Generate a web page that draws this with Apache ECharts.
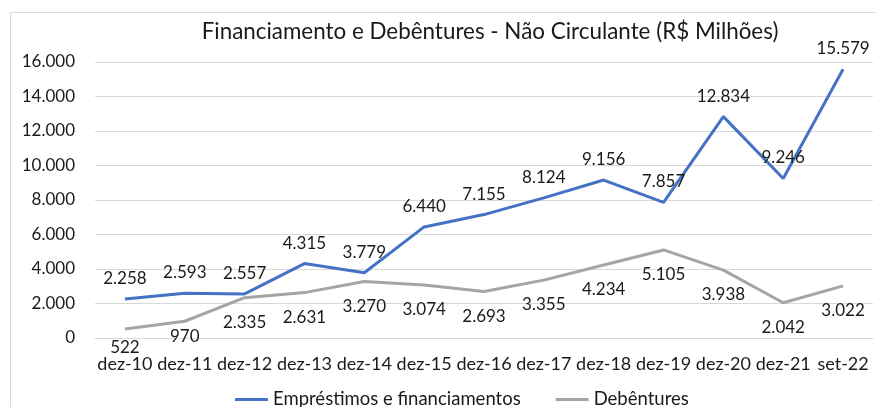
<!DOCTYPE html>
<html>
<head>
<meta charset="utf-8">
<script src="https://cdn.jsdelivr.net/npm/echarts@6/dist/echarts.min.js"></script>
<style>
  html, body { margin: 0; padding: 0; background: #ffffff; }
  #chart { width: 876px; height: 407px; }
</style>
</head>
<body>
<div id="chart"></div>
<script>
// Period labels on the category axis
const periods = ['dez-10', 'dez-11', 'dez-12', 'dez-13', 'dez-14', 'dez-15', 'dez-16',
                 'dez-17', 'dez-18', 'dez-19', 'dez-20', 'dez-21', 'set-22'];

// Non-current balances, R$ millions
const emprestimos = [2258, 2593, 2557, 4315, 3779, 6440, 7155, 8124, 9156, 7857, 12834, 9246, 15579];
const debentures  = [522, 970, 2335, 2631, 3270, 3074, 2693, 3355, 4234, 5105, 3938, 2042, 3022];

// Value axis ticks
const yTicks = [0, 2000, 4000, 6000, 8000, 10000, 12000, 14000, 16000];

const FONT = 'Lato';
const TXT = '#1a1a1a';

// Brazilian thousands separator
function fmt(v) {
  return String(Math.round(v)).replace(/\B(?=(\d{3})+(?!\d))/g, '.');
}

// Small nudges for the first two debenture labels, which sit close to the axis
const debLabelNudge = { 0: -6, 1: -9 };

const chart = echarts.init(document.getElementById('chart'), null, { renderer: 'canvas' });

chart.setOption({
  animation: false,
  backgroundColor: '#ffffff',
  textStyle: { fontFamily: FONT },
  title: {
    text: 'Financiamento e Debêntures - Não Circulante (R$ Milhões)',
    left: 490,
    textAlign: 'center',
    top: 21,
    padding: 0,
    textStyle: { fontFamily: FONT, fontSize: 22.4, fontWeight: 'normal', color: TXT }
  },
  graphic: [{
    type: 'rect',
    shape: { x: 10.5, y: 12.5, width: 900, height: 500 },
    style: { fill: 'none', stroke: '#d9d9d9', lineWidth: 1 },
    silent: true,
    z: -1
  }],
  grid: { left: 95, right: 3, top: 62, bottom: 69, containLabel: false },
  legend: {
    left: 230,
    top: 385,
    itemWidth: 33,
    itemHeight: 3,
    itemGap: 35,
    icon: 'rect',
    textStyle: { fontFamily: FONT, fontSize: 18.5, color: TXT },
    data: ['Empréstimos e financiamentos', 'Debêntures']
  },
  xAxis: {
    type: 'category',
    data: periods,
    boundaryGap: true,
    axisLine: { show: true, lineStyle: { color: '#d9d9d9', width: 1 } },
    axisTick: { show: false },
    axisLabel: { fontFamily: FONT, fontSize: 18, color: TXT, margin: 17, interval: 0 }
  },
  yAxis: {
    type: 'value',
    min: yTicks[0],
    max: yTicks[yTicks.length - 1],
    interval: yTicks[1] - yTicks[0],
    axisLine: { show: false },
    axisTick: { show: false },
    splitLine: { lineStyle: { color: '#d9d9d9', width: 1 } },
    axisLabel: { fontFamily: FONT, fontSize: 17, color: TXT, margin: 20, formatter: fmt }
  },
  series: [
    {
      name: 'Empréstimos e financiamentos',
      type: 'line',
      data: emprestimos,
      symbol: 'circle',
      symbolSize: 0,
      showSymbol: true,
      lineStyle: { color: '#4472c4', width: 3 },
      itemStyle: { color: '#4472c4' },
      label: {
        show: true,
        position: 'top',
        distance: 12,
        fontFamily: FONT,
        fontSize: 17,
        color: TXT,
        formatter: p => fmt(p.value)
      },
      z: 3
    },
    {
      name: 'Debêntures',
      type: 'line',
      data: debentures.map((v, i) => debLabelNudge[i] !== undefined
        ? { value: v, label: { offset: [0, debLabelNudge[i]] } }
        : v),
      symbol: 'circle',
      symbolSize: 0,
      showSymbol: true,
      lineStyle: { color: '#a5a5a5', width: 3 },
      itemStyle: { color: '#a5a5a5' },
      label: {
        show: true,
        position: 'bottom',
        distance: 16,
        fontFamily: FONT,
        fontSize: 17,
        color: TXT,
        formatter: p => fmt(p.value)
      },
      z: 2
    }
  ]
});
</script>
</body>
</html>
